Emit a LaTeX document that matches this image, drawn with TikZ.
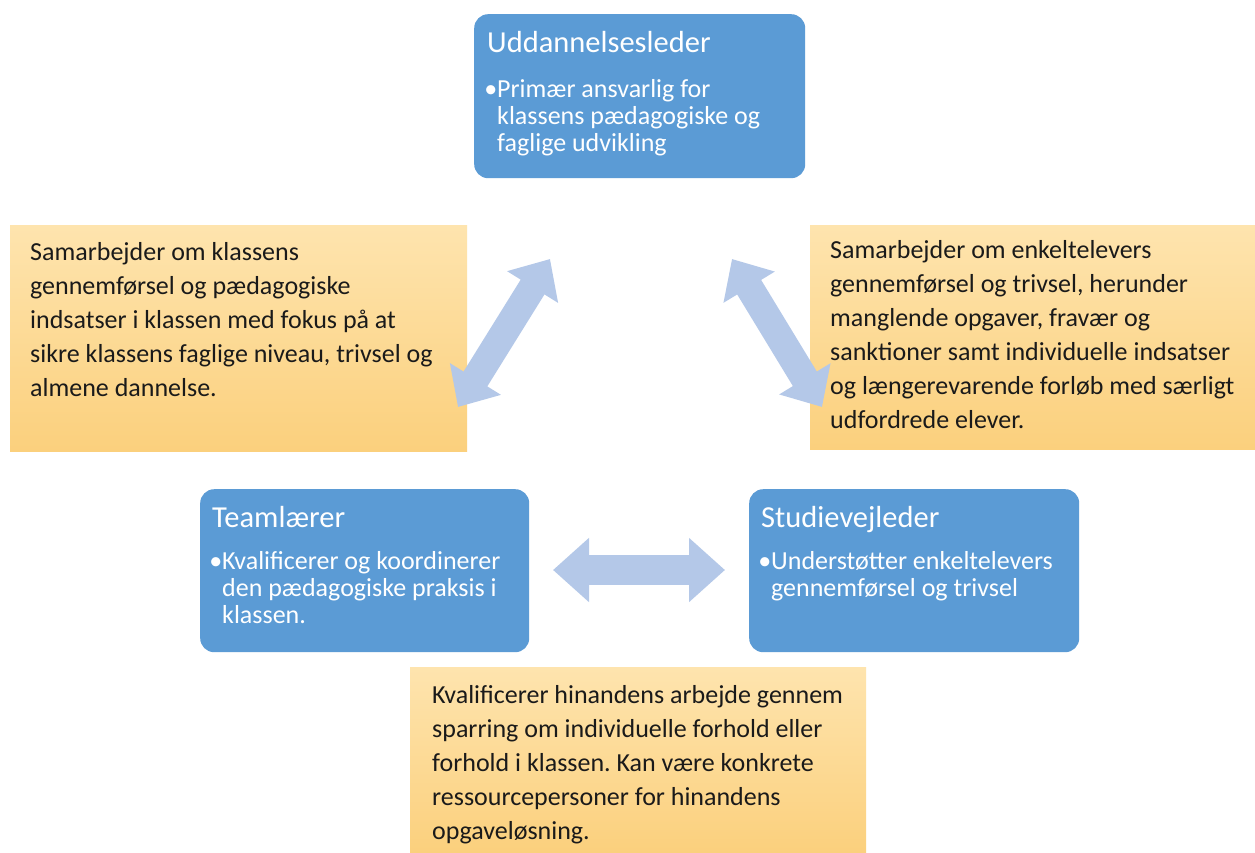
\documentclass[tikz,border=0pt]{standalone}
\usepackage{fontspec}
\setmainfont{Carlito}
\usetikzlibrary{arrows.meta}
\definecolor{boxblue}{HTML}{5B9BD5}
\definecolor{arrowblue}{HTML}{B4C8E8}
\definecolor{otop}{HTML}{FEE4AE}
\definecolor{obot}{HTML}{FBD07D}
\definecolor{txt}{HTML}{1A1A1A}
\newcommand{\textlines}[1]{\begin{tabular}[t]{@{}l@{}}#1\end{tabular}}
\frenchspacing
\begin{document}
\begin{tikzpicture}[x=1pt,y=-1pt,
  rolebox/.style={fill=boxblue, rounded corners=14pt, draw=none, anchor=north west, inner sep=0pt},
  notebox/.style={top color=otop, bottom color=obot, draw=none, anchor=north west, inner sep=0pt},
  titletext/.style={anchor=base west, inner sep=0pt, text=white, font=\fontsize{30.5pt}{32pt}\selectfont},
  bodytext/.style={anchor=base west, inner sep=0pt, text=white, font=\fontsize{26pt}{27pt}\selectfont},
  notetext/.style={anchor=base west, inner sep=0pt, text=txt, font=\fontsize{26pt}{34pt}\selectfont},
  link/.style={draw=arrowblue, line width=28pt, {Triangle[length=33pt,width=58pt]}-{Triangle[length=33pt,width=58pt]}}
]
\useasboundingbox (0,0) rectangle (1255,852);
\fill[white] (0,0) rectangle (1255,852);

% note boxes
\node[notebox, minimum width=457pt, minimum height=226pt] (lnote) at (10,225) {};
\node[notebox, minimum width=445pt, minimum height=224pt] (rnote) at (810,225) {};
\node[notebox, minimum width=456pt, minimum height=185pt] (bnote) at (410,667) {};

% role boxes
\node[rolebox, minimum width=331pt, minimum height=164pt] (udd) at (474,14) {};
\node[rolebox, minimum width=329pt, minimum height=163pt] (team) at (200,489) {};
\node[rolebox, minimum width=330pt, minimum height=163pt] (studie) at (749,489) {};

% connectors
\coordinate (l1) at (458,407);
\coordinate (l2) at (550,259);
\coordinate (r1) at (732,259);
\coordinate (r2) at (822,407);
\coordinate (h1) at (553,570);
\coordinate (h2) at (725,570);
\draw[link] (l1) -- (l2);
\draw[link] (r1) -- (r2);
\draw[link, line width=30pt, {Triangle[length=36pt,width=62pt]}-{Triangle[length=36pt,width=62pt]}] (h1) -- (h2);

% role texts
\node[titletext] (uddt) at (487,52) {Uddannelsesleder};
\node[bodytext] (uddb) at (497,97) {\textlines{\llap{•}Primær ansvarlig for\\klassens pædagogiske og\\faglige udvikling}};
\node[titletext] (teamt) at (212,527) {Teamlærer};
\node[bodytext] (teamb) at (222,569) {\textlines{\llap{•}Kvalificerer og koordinerer\\den pædagogiske praksis i\\klassen.}};
\node[titletext] (studiet) at (761,527) {Studievejleder};
\node[bodytext] (studieb) at (771,569) {\textlines{\llap{•}Understøtter enkeltelevers\\gennemførsel og trivsel}};

% note texts
\node[notetext] (lnotet) at (30,260) {\textlines{Samarbejder om klassens\\gennemførsel og pædagogiske\\indsatser i klassen med fokus på at\\sikre klassens faglige niveau, trivsel og\\almene dannelse.}};
\node[notetext] (rnotet) at (830,258) {\textlines{Samarbejder om enkeltelevers\\gennemførsel og trivsel, herunder\\manglende opgaver, fravær og\\sanktioner samt individuelle indsatser\\og længerevarende forløb med særligt\\udfordrede elever.}};
\node[notetext] (bnotet) at (432,703) {\textlines{Kvalificerer hinandens arbejde gennem\\sparring om individuelle forhold eller\\forhold i klassen. Kan være konkrete\\ressourcepersoner for hinandens\\opgaveløsning.}};
\end{tikzpicture}
\end{document}
